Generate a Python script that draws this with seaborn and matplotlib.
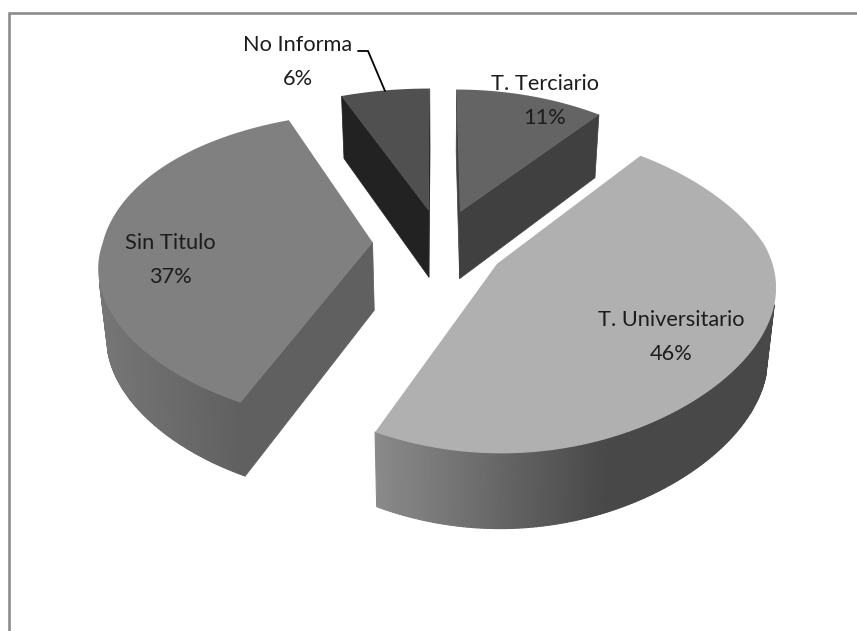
import numpy as np
import matplotlib
matplotlib.use("Agg")
import matplotlib.pyplot as plt
from matplotlib.collections import PolyCollection
from matplotlib.path import Path
from matplotlib.transforms import Affine2D, Transform
import seaborn as sns

# Data
categories = ["T. Terciario", "T. Universitario", "Sin Titulo", "No Informa"]
percent = [11, 46, 37, 6]

# Styling
top_grey = ["#646464", "#b0b0b0", "#808080", "#505050"]
wall_grey = ["#404040", "#505050", "#606060", "#222222"]
side_left = [0x40, 0x8a, 0x76, 0x22]    # rim grey at the slice's left end
side_right = [0x40, 0x48, 0x60, 0x22]   # rim grey at the slice's right end
explode = [0.23, 0.245, 0.25, 0.23]
label_xy = [(545, 101), (671, 337), (170, 260), (298, 62)]

CX, CY, BX, AY, K, Q, SKEW, DEPTH, SHRINK = 440, 243.5, 270, 151.5, 0.162, 0.08, 0.046, 68, 0.025


def project(u, v, drop=0.0):
    u, v = np.asarray(u, float), np.asarray(v, float)
    s = 1.0 / (1.0 + K * v)
    narrowing = 1 - Q * np.minimum(v, 0.0) ** 2
    x = CX + BX * (u * narrowing - SKEW * np.maximum(v, 0.0) * np.abs(u)) * s
    y = CY - AY * v * s + drop * np.sqrt(s)
    x = CX + (x - CX) * (1 - SHRINK * drop / DEPTH)
    return x, y


class Perspective(Transform):
    input_dims = 2
    output_dims = 2

    def transform_non_affine(self, values):
        values = np.asarray(values, float)
        x, y = project(values[:, 0], values[:, 1])
        return np.column_stack([x, y])

    def transform_path_non_affine(self, path):
        # flatten the wedge's curves first so that the arc follows the projection exactly
        poly = path.transformed(Affine2D().scale(3000)).to_polygons(closed_only=True)[0] / 3000
        return Path(self.transform_non_affine(poly), closed=True)


sns.set_theme(style="white")
plt.rcParams["font.family"] = ["Lato", "DejaVu Sans"]

fig = plt.figure(figsize=(8.57, 6.31), dpi=100)
ax = fig.add_axes([0, 0, 1, 1])
wedges, _ = ax.pie(percent, explode=explode, startangle=90, counterclock=False,
                   colors=top_grey, wedgeprops=dict(linewidth=0))
ax.set_aspect("auto")
ax.set_xlim(0, 857)
ax.set_ylim(631, 0)
ax.axis("off")

persp = Perspective()
for i in [0, 3, 2, 1]:
    w = wedges[i]
    cx, cy = w.center
    mid = np.radians((w.theta1 + w.theta2) / 2)
    apex = np.array(project(cx, cy))
    inner = np.array(project(cx + 0.5 * w.r * np.cos(mid), cy + 0.5 * w.r * np.sin(mid))) - apex
    t = np.radians(np.linspace(w.theta1, w.theta2, 241))
    u = cx + w.r * np.cos(t)
    v = cy + w.r * np.sin(t)
    # radial walls: only those whose face turns towards the viewer
    for tt in (t[0], t[-1]):
        ue, ve = cx + w.r * np.cos(tt), cy + w.r * np.sin(tt)
        edge = np.array(project(ue, ve)) - apex
        side_inner = edge[0] * inner[1] - edge[1] * inner[0]
        side_drop = edge[0] * 1.0
        if side_inner * side_drop > 0:
            continue
        quad = [project(cx, cy), project(ue, ve), project(ue, ve, DEPTH), project(cx, cy, DEPTH)]
        ax.add_patch(plt.Polygon(quad, closed=True, fc=wall_grey[i], ec=wall_grey[i], lw=0.5,
                                 zorder=2 + i * 0.01))
    # curved rim: front-facing part only, shaded along the arc
    x0, y0 = project(u, v)
    x1, y1 = project(u, v, DEPTH)
    keep = [j for j in range(len(t) - 1) if np.sin(t[j]) < -0.25]
    if keep:
        polys = [[(x0[j], y0[j]), (x0[j + 1], y0[j + 1]), (x1[j + 1], y1[j + 1]), (x1[j], y1[j])]
                 for j in keep]
        xs = x0[keep]
        frac = (xs - xs.min()) / (xs.max() - xs.min())
        frac = np.clip(frac / (0.58 if i == 1 else 1.0), 0, 1)
        g = side_left[i] + (side_right[i] - side_left[i]) * frac
        cols = [(a / 255, a / 255, a / 255) for a in g]
        ax.add_collection(PolyCollection(polys, facecolors=cols, edgecolors=cols, linewidths=0.8,
                                         zorder=2.1 + i * 0.01))
    w.set_transform(persp + ax.transData)
    w.set_zorder(3 + i * 0.01)
    w.set_clip_on(False)

# Frame: left and top only reach the picture edges
frame = "#8c8c8c"
ax.plot([9.5, 9.5, 857], [631, 12.5, 12.5], color=frame, lw=1.9, solid_joinstyle="miter", zorder=1)

# Leader line
ax.plot([358, 368, 385], [51, 51, 91], color="black", lw=1.3, zorder=4, solid_joinstyle="miter")

# Labels
for (x, y), name, p in zip(label_xy, categories, percent):
    ax.text(x, y, f"{name}\n{p}%", ha="center", va="center", fontsize=15.7, color="#1c1c1c",
            linespacing=1.85, zorder=5)

fig.savefig("out.png", dpi=100, facecolor="white")
